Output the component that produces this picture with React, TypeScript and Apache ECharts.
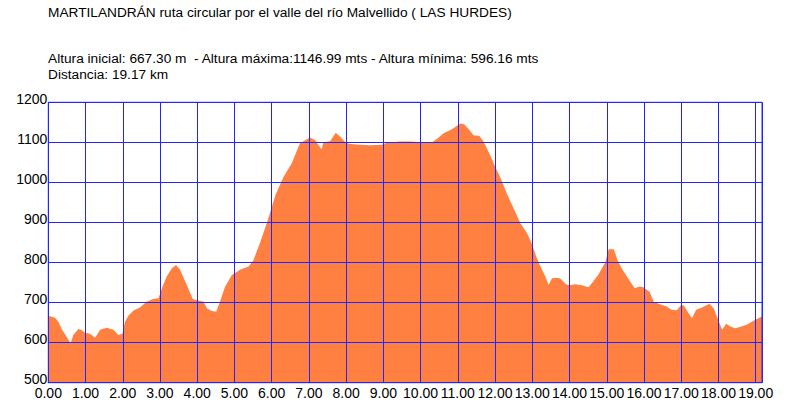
import React, { useEffect, useRef } from "react";
import * as echarts from "echarts";

const titleText = "MARTILANDRÁN ruta circular por el valle del río Malvellido ( LAS HURDES)";
const infoLine1 = "Altura inicial: 667.30 m  - Altura máxima:1146.99 mts - Altura mínima: 596.16 mts";
const infoLine2 = "Distancia: 19.17 km";

const distanceKm = [
  0.0, 0.18, 0.27, 0.36, 0.49, 0.6, 0.67, 0.81, 0.9, 0.99, 1.12, 1.26, 1.39, 1.57, 1.75, 1.88, 1.99,
  2.06, 2.15, 2.29, 2.46, 2.64, 2.82, 2.96, 3.05, 3.18, 3.32, 3.43, 3.54, 3.72, 3.88, 3.99, 4.17,
  4.26, 4.39, 4.51, 4.61, 4.75, 4.93, 5.15, 5.38, 5.51, 5.69, 5.89, 6.1, 6.32, 6.54, 6.76, 7.03,
  7.17, 7.26, 7.34, 7.39, 7.57, 7.72, 7.84, 7.99, 8.11, 8.38, 8.64, 8.96, 9.09, 9.45, 9.72, 9.99,
  10.3, 10.46, 10.62, 10.84, 11.07, 11.17, 11.31, 11.42, 11.58, 11.69, 11.87, 12.0, 12.14, 12.33,
  12.54, 12.68, 12.86, 12.99, 13.12, 13.26, 13.35, 13.44, 13.53, 13.66, 13.75, 13.91, 14.02, 14.16,
  14.33, 14.51, 14.6, 14.78, 14.96, 15.05, 15.19, 15.29, 15.4, 15.54, 15.75, 15.88, 15.98, 16.15,
  16.26, 16.43, 16.61, 16.74, 16.88, 17.0, 17.07, 17.2, 17.29, 17.4, 17.56, 17.76, 17.87, 17.97,
  18.1, 18.21, 18.32, 18.45, 18.62, 18.77, 18.99, 19.17,
];

const elevationM = [
  667, 662, 652, 634, 615, 598, 619, 634, 631, 625, 622, 612, 632, 637, 632, 619, 622,
  652, 667, 680, 688, 702, 709, 711, 736, 765, 786, 794, 782, 744, 709, 706, 702,
  686, 679, 677, 702, 740, 769, 782, 790, 806, 850, 904, 968, 1014, 1048, 1098, 1112,
  1105, 1093, 1083, 1100, 1103, 1124, 1114, 1099, 1096, 1094, 1093, 1094, 1099, 1102, 1102, 1100,
  1099, 1110, 1123, 1133, 1147, 1145, 1131, 1118, 1116, 1102, 1068, 1040, 1012, 969,
  927, 898, 873, 846, 811, 782, 765, 744, 761, 762, 760, 745, 744, 746,
  743, 738, 748, 771, 800, 833, 833, 806, 786, 765, 736, 740, 738, 727,
  702, 696, 690, 682, 681, 694, 693, 673, 661, 682, 688, 697, 686, 663,
  632, 647, 640, 636, 640, 645, 657, 665,
];

const yMin = 500;
const yMax = 1200;
const yStep = 100;
const xMin = 0;
const xMax = 19.17;
const xStep = 1;

const FONT = 'Arial, "Liberation Sans", sans-serif';
const BLUE = "#2424ff";
const ORANGE = "#ff8040";

export default function App() {
  const ref = useRef<HTMLDivElement>(null);

  useEffect(() => {
    if (!ref.current) return;
    const chart = echarts.init(ref.current, undefined, { renderer: "svg" });
    const data = distanceKm.map((d, i) => [d, elevationM[i]]);
    const textStyle = (text: string) => ({
      text,
      font: `13.7px ${FONT}`,
      fill: "#000",
      verticalAlign: "middle",
      align: "left",
    });
    chart.setOption({
      animation: false,
      backgroundColor: "#ffffff",
      grid: {
        left: 48.3,
        top: 102.3,
        right: 38,
        bottom: 21.3,
        show: true,
        borderColor: BLUE,
        borderWidth: 1,
        backgroundColor: "transparent",
        z: 5,
      },
      graphic: [
        { type: "text", x: 48, y: 12.5, z: 10, style: textStyle(titleText) },
        { type: "text", x: 48, y: 58.5, z: 10, style: textStyle(infoLine1) },
        { type: "text", x: 48, y: 74.5, z: 10, style: textStyle(infoLine2) },
      ],
      xAxis: {
        type: "value",
        min: xMin,
        max: xMax,
        interval: xStep,
        z: 5,
        axisLine: { show: true, lineStyle: { color: BLUE, width: 1 } },
        axisTick: { show: false },
        splitLine: { show: true, lineStyle: { color: BLUE, width: 1 } },
        axisLabel: {
          color: "#000",
          fontFamily: FONT,
          fontSize: 14,
          margin: 3,
          showMaxLabel: false,
          formatter: (v: number) => v.toFixed(2),
        },
      },
      yAxis: {
        type: "value",
        min: yMin,
        max: yMax,
        interval: yStep,
        z: 5,
        axisLine: { show: true, lineStyle: { color: BLUE, width: 1 } },
        axisTick: { show: false },
        splitLine: { show: true, lineStyle: { color: BLUE, width: 1 } },
        axisLabel: {
          color: "#000",
          fontFamily: FONT,
          fontSize: 14,
          margin: 1,
          verticalAlign: "bottom",
          lineHeight: 7,
          formatter: (v: number) => String(v),
        },
      },
      series: [
        {
          type: "line",
          data,
          showSymbol: false,
          z: 2,
          lineStyle: { width: 0, color: ORANGE },
          itemStyle: { color: ORANGE },
          areaStyle: { color: ORANGE, opacity: 1 },
        },
      ],
    });
    return () => chart.dispose();
  }, []);

  return <div ref={ref} style={{ width: 800, height: 404, position: "absolute", left: 0, top: 0 }} />;
}
